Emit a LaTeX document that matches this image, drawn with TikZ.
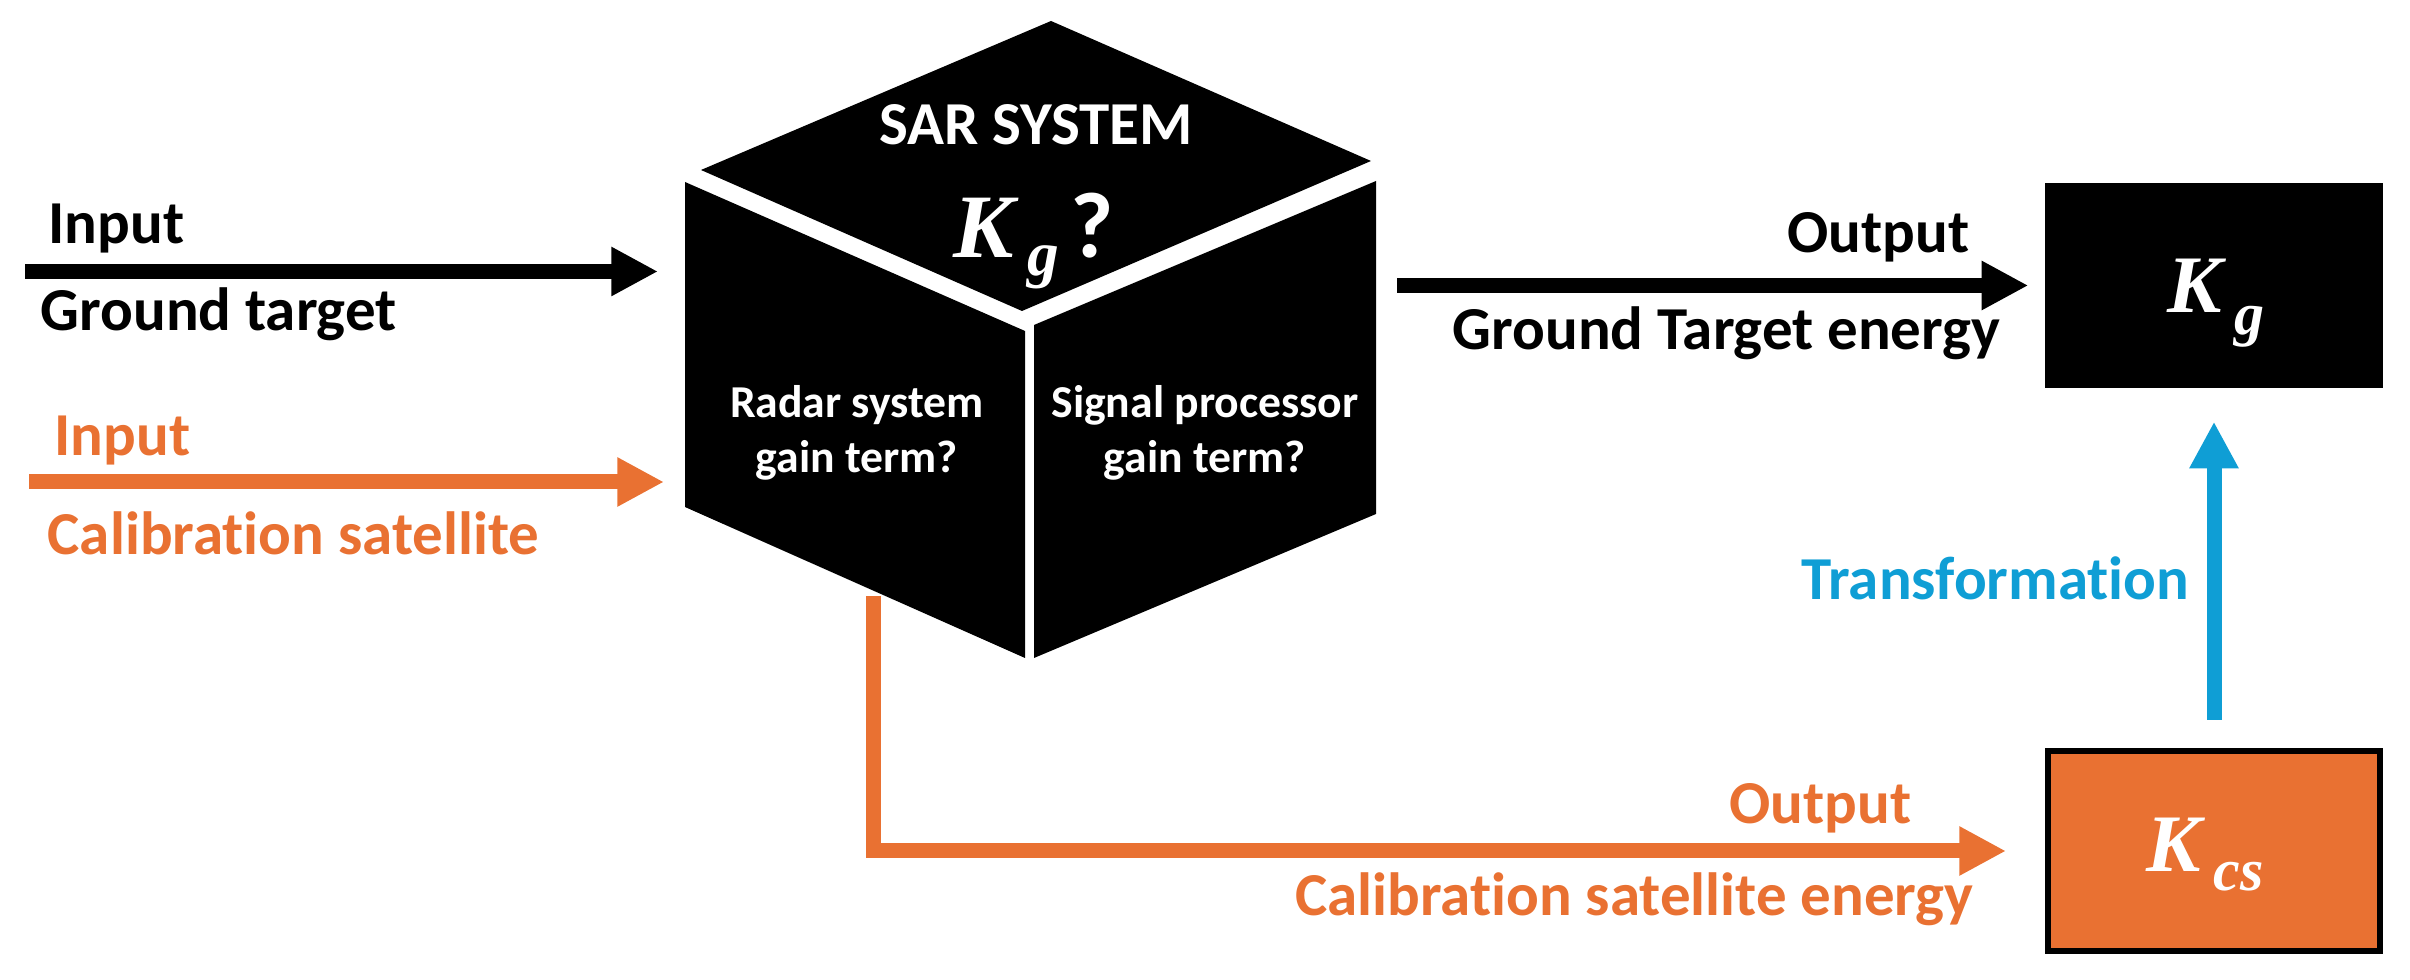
\documentclass[tikz,border=0pt]{standalone}
\usepackage{fontspec}
\setmainfont{Carlito}[Ligatures=NoCommon]
\newfontfamily\kfont{Liberation Serif}
\usetikzlibrary{arrows.meta}
\definecolor{orng}{HTML}{E97132}
\definecolor{blu}{HTML}{0F9ED5}
\begin{document}
\begin{tikzpicture}[x=0.3pt,y=-0.3pt,
  lbl/.style={inner sep=0pt, font=\fontsize{18.3}{22}\selectfont\bfseries},
  facetxt/.style={inner sep=0pt, text=white, align=center, font=\fontsize{13.7}{16.35}\selectfont\bfseries},
  arr/.style={line width=4.5pt, -{Triangle[length=14pt,width=13.8pt]}},
  kbox/.style={minimum width=101.4pt, minimum height=61.5pt, inner sep=0pt},
  kmath/.style={inner sep=0pt, text=white, font=\kfont\bfseries\itshape},
]
\useasboundingbox (0,0) rectangle (2410,980);

% cube faces
\fill[black] (1051,21) -- (1371,161) -- (1022,311) -- (701,170) -- cycle;
\fill[black] (685,182) -- (1025,331) -- (1025,658) -- (685,507) -- cycle;
\fill[black] (1034,325) -- (1376,181) -- (1376,514) -- (1034,658) -- cycle;

\node[lbl, text=white, anchor=base] (sar) at (1036,145) {SAR SYSTEM};
\node[kmath, anchor=base] (kq) at (1034,257.5)
  {\fontsize{27.2}{30}\selectfont K\kern4pt\raisebox{-5.5pt}{\fontsize{19}{22}\selectfont g}\hspace{3.5pt}{\fontsize{28}{30}\selectfont\normalfont\bfseries ?}};
\node[facetxt] (radar) at (857,433) {Radar system\\gain term?};
\node[facetxt] (sigp) at (1205,433) {Signal processor\\gain term?};

% output boxes
\node[kbox, fill=black] (kg) at (2214,285.5) {};
\node[kmath, anchor=base] (kgt) at (2216,312.5)
  {\fontsize{24.5}{28}\selectfont K\kern4pt\raisebox{-6.5pt}{\fontsize{18}{21}\selectfont g}};
\node[kbox, fill=orng, draw=black, line width=1.8pt, minimum width=99.6pt, minimum height=60pt] (kcs) at (2214,851) {};
\node[kmath, anchor=base] (kcst) at (2205,872)
  {\fontsize{24.5}{28}\selectfont K\kern4pt\raisebox{-5.5pt}{\fontsize{18}{21}\selectfont cs}};

% coordinates
\coordinate (a1s) at (25,271.5);
\coordinate (a1e) at (658,271.5);
\coordinate (a2s) at (29,482);
\coordinate (a2e) at (664,482);
\coordinate (cubeout) at (1397,285.5);
\coordinate (cs0) at (873.5,596);

% connectors
\draw[arr, black] (a1s) -- (a1e);
\draw[arr, orng] (a2s) -- (a2e);
\draw[arr, black, shorten >=4.8pt] (cubeout) -- (kg.west);
\draw[arr, orng, shorten >=11.7pt] (cs0) |- (kcs.west);
\draw[arr, blu, shorten <=8.4pt, shorten >=9.9pt] (kcs.north) -- (kg.south);

% labels
\node[lbl, anchor=base west] (in1) at (48,244) {Input};
\node[lbl, anchor=base west] (gt) at (40,331) {Ground target};
\node[lbl, anchor=base west, text=orng] (in2) at (54,456) {Input};
\node[lbl, anchor=base west, text=orng] (cst) at (47,555) {Calibration satellite};
\node[lbl, anchor=base east] (out1) at (1970,253) {Output};
\node[lbl, anchor=base east] (gte) at (2001,350) {Ground Target energy};
\node[lbl, anchor=base east, text=blu] (tr) at (2190,600) {Transformation};
\node[lbl, anchor=base east, text=orng] (out2) at (1912,824) {Output};
\node[lbl, anchor=base east, text=orng] (cse) at (1974,916) {Calibration satellite energy};
\end{tikzpicture}
\end{document}
